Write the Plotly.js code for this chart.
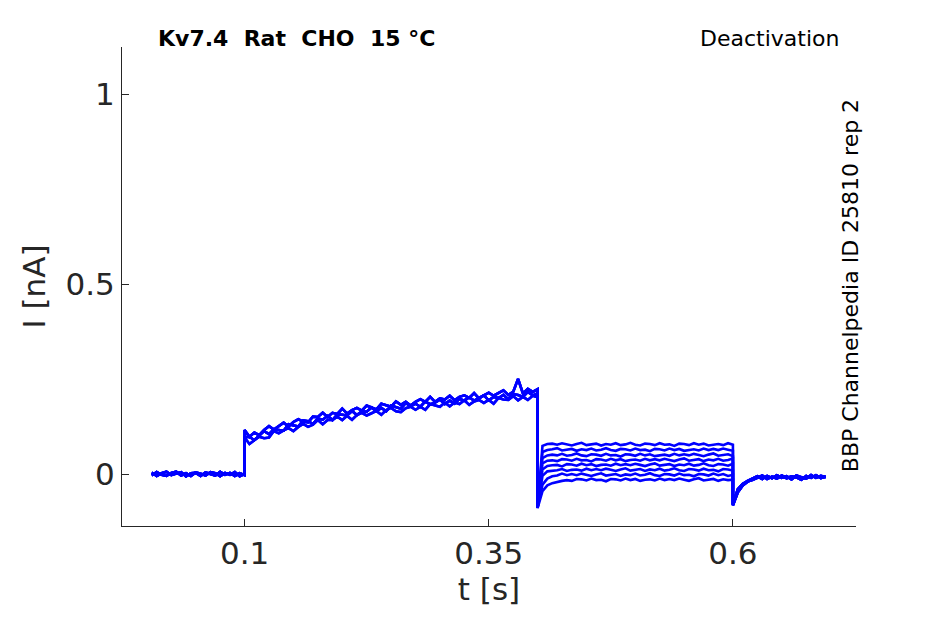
<!DOCTYPE html>
<html>
<head>
<meta charset="utf-8">
<script src="https://cdn.plot.ly/plotly-3.0.1.min.js"></script>
<style>
  html, body { margin: 0; padding: 0; background: #fff; }
  #chart { width: 945px; height: 624px; }
</style>
</head>
<body>
<div id="chart"></div>
<script>
// ── Recorded sweeps (time in s, current in nA) ──
const tBase = [0.005, 0.010, 0.015, 0.020, 0.025, 0.030, 0.035, 0.040, 0.045, 0.050,
               0.055, 0.060, 0.065, 0.070, 0.075, 0.080, 0.085, 0.090, 0.095, 0.100];
const tAct = [0.100, 0.105, 0.110, 0.115, 0.120, 0.125, 0.130, 0.135, 0.140, 0.145,
              0.150, 0.155, 0.160, 0.165, 0.170, 0.175, 0.180, 0.185, 0.190, 0.195,
              0.200, 0.205, 0.210, 0.215, 0.220, 0.225, 0.230, 0.235, 0.240, 0.245,
              0.250, 0.255, 0.260, 0.265, 0.270, 0.275, 0.280, 0.285, 0.290, 0.295,
              0.300, 0.305, 0.310, 0.315, 0.320, 0.325, 0.330, 0.335, 0.340, 0.345,
              0.350, 0.355, 0.360, 0.365, 0.370, 0.375, 0.380, 0.385, 0.390, 0.395, 0.400];
const tDeact = [0.400, 0.405, 0.410, 0.415, 0.420, 0.425, 0.430, 0.435, 0.440, 0.445,
                0.450, 0.455, 0.460, 0.465, 0.470, 0.475, 0.480, 0.485, 0.490, 0.495,
                0.500, 0.505, 0.510, 0.515, 0.520, 0.525, 0.530, 0.535, 0.540, 0.545,
                0.550, 0.555, 0.560, 0.565, 0.570, 0.575, 0.580, 0.585, 0.590, 0.595, 0.600];
const tTail = [0.600, 0.605, 0.610, 0.615, 0.620, 0.625, 0.630, 0.635, 0.640, 0.645,
               0.650, 0.655, 0.660, 0.665, 0.670, 0.675, 0.680, 0.685, 0.690, 0.695];

// holding level before the step
const baseA = [0.004, -0.005, 0.002, 0.006, -0.003, 0.001, 0.005, -0.006, 0.002, 0.003,
               -0.005, 0.004, -0.001, -0.004, 0.006, -0.002, 0.003, -0.005, 0.002, -0.003];
const baseB = [-0.004, 0.005, -0.002, -0.005, 0.003, 0.006, -0.004, 0.002, -0.005, 0.004,
               0.001, -0.004, 0.005, 0.002, -0.006, 0.003, -0.002, 0.005, -0.006, 0.000];

// activating step, upper / middle / lower edge of the bundle
const actHi = [0.116, 0.098, 0.109, 0.102, 0.116, 0.126, 0.117, 0.126, 0.135, 0.125,
               0.137, 0.144, 0.138, 0.136, 0.151, 0.150, 0.161, 0.150, 0.161, 0.158,
               0.172, 0.159, 0.168, 0.174, 0.167, 0.180, 0.174, 0.170, 0.185, 0.182,
               0.177, 0.191, 0.182, 0.190, 0.180, 0.190, 0.197, 0.190, 0.203, 0.190,
               0.199, 0.196, 0.206, 0.194, 0.203, 0.207, 0.200, 0.213, 0.199, 0.207,
               0.214, 0.206, 0.214, 0.220, 0.208, 0.216, 0.250, 0.212, 0.224, 0.216, 0.223];
const actMid = [0.097, 0.098, 0.089, 0.102, 0.113, 0.105, 0.118, 0.116, 0.114, 0.131,
                0.127, 0.125, 0.141, 0.139, 0.132, 0.146, 0.143, 0.153, 0.142, 0.157,
                0.156, 0.154, 0.166, 0.155, 0.165, 0.164, 0.175, 0.165, 0.174, 0.165,
                0.180, 0.175, 0.172, 0.187, 0.178, 0.185, 0.177, 0.191, 0.183, 0.188,
                0.196, 0.184, 0.193, 0.185, 0.198, 0.193, 0.202, 0.193, 0.201, 0.207,
                0.194, 0.203, 0.200, 0.208, 0.197, 0.210, 0.208, 0.203, 0.216, 0.207, 0.212];
const actLo = [0.096, 0.079, 0.089, 0.098, 0.094, 0.096, 0.113, 0.107, 0.115, 0.121,
               0.113, 0.124, 0.132, 0.124, 0.130, 0.142, 0.131, 0.142, 0.142, 0.151,
               0.142, 0.153, 0.143, 0.155, 0.161, 0.154, 0.160, 0.166, 0.156, 0.168,
               0.174, 0.165, 0.163, 0.173, 0.177, 0.169, 0.177, 0.169, 0.184, 0.180,
               0.177, 0.188, 0.178, 0.188, 0.184, 0.194, 0.182, 0.191, 0.195, 0.187,
               0.195, 0.185, 0.200, 0.196, 0.195, 0.205, 0.194, 0.203, 0.195, 0.206, 0.202];

// deactivating steps, one per sweep (top level first)
const deact1 = [-0.088, 0.074, 0.079, 0.080, 0.077, 0.081, 0.078, 0.075, 0.079, 0.082,
                0.076, 0.078, 0.080, 0.075, 0.079, 0.077, 0.081, 0.076, 0.078, 0.082,
                0.077, 0.075, 0.080, 0.079, 0.076, 0.081, 0.077, 0.078, 0.074, 0.080,
                0.079, 0.076, 0.081, 0.077, 0.080, 0.075, 0.078, 0.079, 0.076, 0.081, 0.077];
const deact2 = [-0.088, 0.058, 0.063, 0.065, 0.068, 0.062, 0.064, 0.066, 0.061, 0.065,
                0.063, 0.067, 0.062, 0.064, 0.068, 0.063, 0.061, 0.066, 0.065, 0.062,
                0.067, 0.063, 0.064, 0.060, 0.066, 0.065, 0.062, 0.067, 0.063, 0.066,
                0.061, 0.064, 0.065, 0.062, 0.067, 0.063, 0.066, 0.063, 0.067, 0.064, 0.061];
const deact3 = [-0.088, 0.042, 0.049, 0.051, 0.049, 0.053, 0.048, 0.050, 0.054, 0.049,
                0.047, 0.052, 0.051, 0.048, 0.053, 0.049, 0.050, 0.046, 0.052, 0.051,
                0.048, 0.053, 0.049, 0.052, 0.047, 0.050, 0.051, 0.048, 0.053, 0.049,
                0.052, 0.049, 0.053, 0.050, 0.047, 0.051, 0.054, 0.048, 0.050, 0.052, 0.047];
const deact4 = [-0.088, 0.028, 0.035, 0.036, 0.034, 0.039, 0.038, 0.035, 0.040, 0.036,
                0.037, 0.033, 0.039, 0.038, 0.035, 0.040, 0.036, 0.039, 0.034, 0.037,
                0.038, 0.035, 0.040, 0.036, 0.039, 0.036, 0.040, 0.037, 0.034, 0.038,
                0.041, 0.035, 0.037, 0.039, 0.034, 0.038, 0.036, 0.040, 0.035, 0.037, 0.041];
const deact5 = [-0.088, 0.012, 0.021, 0.023, 0.024, 0.020, 0.026, 0.025, 0.022, 0.027,
                0.023, 0.026, 0.021, 0.024, 0.025, 0.022, 0.027, 0.023, 0.026, 0.023,
                0.027, 0.024, 0.021, 0.025, 0.028, 0.022, 0.024, 0.026, 0.021, 0.025,
                0.023, 0.027, 0.022, 0.024, 0.028, 0.023, 0.021, 0.026, 0.025, 0.022, 0.027];
const deact6 = [-0.088, -0.005, 0.007, 0.008, 0.010, 0.013, 0.008, 0.011, 0.012, 0.009,
                0.014, 0.010, 0.013, 0.010, 0.014, 0.011, 0.008, 0.012, 0.015, 0.009,
                0.011, 0.013, 0.008, 0.012, 0.010, 0.014, 0.009, 0.011, 0.015, 0.010,
                0.008, 0.013, 0.012, 0.009, 0.014, 0.010, 0.011, 0.007, 0.013, 0.012, 0.009];
const deact7 = [-0.088, -0.028, -0.012, -0.006, -0.004, 0.001, -0.003, 0.000, -0.003, 0.001,
                -0.002, -0.005, -0.001, 0.002, -0.004, -0.002, 0.000, -0.005, -0.001, -0.003,
                0.001, -0.004, -0.002, 0.002, -0.003, -0.005, 0.000, -0.001, -0.004, 0.001,
                -0.003, -0.002, -0.006, 0.000, -0.001, -0.004, 0.001, -0.003, 0.000, -0.005, -0.002];
const deact8 = [-0.090, -0.045, -0.030, -0.024, -0.020, -0.018, -0.016, -0.018, -0.013, -0.014,
                -0.017, -0.012, -0.016, -0.015, -0.019, -0.013, -0.014, -0.017, -0.012, -0.016,
                -0.013, -0.018, -0.015, -0.014, -0.017, -0.012, -0.016, -0.013, -0.016, -0.012,
                -0.015, -0.018, -0.014, -0.011, -0.017, -0.015, -0.013, -0.018, -0.014, -0.016, -0.015];

// return to holding
const tailA = [-0.080, -0.040, -0.026, -0.018, -0.012, -0.006, -0.013, -0.005, -0.011, -0.003,
               -0.010, -0.006, -0.014, -0.004, -0.009, -0.012, -0.003, -0.010, -0.005, -0.008];
const tailB = [-0.082, -0.048, -0.030, -0.020, -0.016, -0.010, -0.004, -0.013, -0.007, -0.012,
               -0.004, -0.011, -0.006, -0.009, -0.015, -0.005, -0.010, -0.003, -0.011, -0.007];

const xTicks = [0.1, 0.35, 0.6];
const yTicks = [0, 0.5, 1];

// ── Build one trace per sweep ──
const bases = [baseA, baseB];
const acts = [actHi, actMid, actLo];
const deacts = [deact1, deact2, deact3, deact4, deact5, deact6, deact7, deact8];
const tails = [tailA, tailB];
const tAll = tBase.concat(tAct, tDeact, tTail);

const traces = deacts.map((d, i) => ({
    x: tAll,
    y: bases[i % 2].concat(acts[i % 3], d, tails[i % 2]),
    type: 'scatter', mode: 'lines',
    line: { color: '#0000ff', width: 2.6 },
    hoverinfo: 'skip', showlegend: false
}));

const FONT = 'DejaVu Sans, sans-serif';
const INK = '#262626';

Plotly.newPlot('chart', traces, {
    width: 945, height: 624,
    margin: { t: 47, r: 89, b: 98, l: 122 },
    paper_bgcolor: '#fff', plot_bgcolor: '#fff',
    font: { family: FONT, color: INK },
    xaxis: {
        range: [-0.0255, 0.726],
        tickvals: xTicks, ticktext: xTicks.map(String),
        ticks: 'inside', ticklen: 7, tickcolor: INK, tickwidth: 1,
        showline: true, linecolor: INK, linewidth: 1, mirror: false,
        showgrid: false, zeroline: false,
        tickfont: { family: FONT, size: 31, color: INK },
        title: { text: 't [s]', font: { family: FONT, size: 31, color: INK }, standoff: 8 }
    },
    yaxis: {
        range: [-0.1368, 1.1237],
        tickvals: yTicks, ticktext: yTicks.map(String),
        ticks: 'inside', ticklen: 7, tickcolor: INK, tickwidth: 1,
        showline: true, linecolor: INK, linewidth: 1, mirror: false,
        showgrid: false, zeroline: false,
        tickfont: { family: FONT, size: 31, color: INK },
        title: { text: 'I [nA]', font: { family: FONT, size: 31, color: INK }, standoff: 10 }
    },
    annotations: [
        {
            text: '<b>Kv7.4  Rat  CHO  15 °C</b>',
            xref: 'paper', yref: 'paper', x: 0.046, y: 1.017,
            xanchor: 'left', yanchor: 'middle', showarrow: false,
            font: { family: FONT, size: 22, color: '#000' }
        },
        {
            text: 'Deactivation',
            xref: 'paper', yref: 'paper', x: 0.98, y: 1.017,
            xanchor: 'right', yanchor: 'middle', showarrow: false,
            font: { family: FONT, size: 22, color: '#000' }
        },
        {
            text: 'BBP Channelpedia ID 25810 rep 2',
            xref: 'paper', yref: 'paper', x: 0.992, y: 0.501,
            xanchor: 'center', yanchor: 'middle', textangle: -90, showarrow: false,
            font: { family: FONT, size: 22, color: '#000' }
        }
    ]
}, { displayModeBar: false, staticPlot: true });
</script>
</body>
</html>
